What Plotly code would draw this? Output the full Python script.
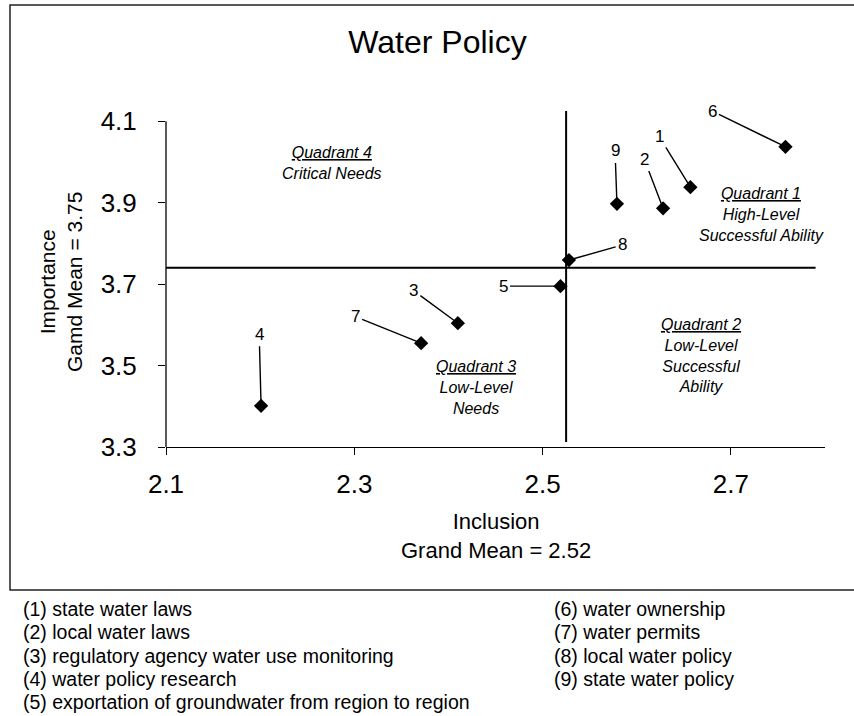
import plotly.graph_objects as go

# ---------------- data ----------------
item_ids = ["1", "2", "3", "4", "5", "6", "7", "8", "9"]
inclusion = [2.657, 2.628, 2.410, 2.201, 2.519, 2.758, 2.371, 2.528, 2.579]
importance = [3.938, 3.886, 3.604, 3.401, 3.695, 4.037, 3.555, 3.759, 3.897]
# label (callout) anchor positions in data units
label_x = [2.624, 2.608, 2.363, 2.199, 2.458, 2.680, 2.301, 2.585, 2.577]
label_y = [4.062, 4.007, 3.684, 3.577, 3.695, 4.125, 3.620, 3.796, 4.027]

grand_mean_inclusion = 2.525
grand_mean_importance = 3.74

x_ticks = [2.1, 2.3, 2.5, 2.7]
y_ticks = [3.3, 3.5, 3.7, 3.9, 4.1]

legend_left = [
    "(1) state water laws",
    "(2) local water laws",
    "(3) regulatory agency water use monitoring",
    "(4) water policy research",
    "(5) exportation of groundwater from region to region",
]
legend_right = [
    "(6) water ownership",
    "(7) water permits",
    "(8) local water policy",
    "(9) state water policy",
]

quadrant_texts = [
    "<u>Quadrant 4</u><br>Critical Needs",
    "<u>Quadrant 1</u><br>High-Level<br>Successful Ability",
    "<u>Quadrant 3</u><br>Low-Level<br>Needs",
    "<u>Quadrant 2</u><br>Low-Level<br>Successful<br>Ability",
]
quadrant_x = [2.276, 2.733, 2.429, 2.668]
quadrant_y = [3.998, 3.872, 3.445, 3.525]

# ---------------- layout constants ----------------
W, H = 854, 716
ML, MR, MT, MB = 166, 29, 111, 269
PW = W - ML - MR
PH = H - MT - MB
FONT = "Liberation Sans, Arial, Helvetica, sans-serif"


def px_to_paper_x(px):
    return (px - ML) / PW


def px_to_paper_y(py):
    return (H - MB - py) / PH


fig = go.Figure()

fig.add_trace(go.Scatter(
    x=inclusion, y=importance, mode="markers",
    marker=dict(symbol="diamond", size=11, color="black"),
    hoverinfo="skip", showlegend=False,
))

annotations = []
# callout labels with leader lines
for i, lab in enumerate(item_ids):
    annotations.append(dict(
        x=inclusion[i], y=importance[i], xref="x", yref="y",
        ax=label_x[i], ay=label_y[i], axref="x", ayref="y",
        text=lab, showarrow=True, arrowhead=0, arrowwidth=1.4,
        arrowcolor="black", standoff=2, startstandoff=1,
        font=dict(family=FONT, size=17, color="black"),
    ))

# quadrant descriptions
for t, qx, qy in zip(quadrant_texts, quadrant_x, quadrant_y):
    annotations.append(dict(
        x=qx, y=qy, xref="x", yref="y", text="<i>" + t + "</i>",
        showarrow=False, align="center", xanchor="center", yanchor="middle",
        font=dict(family=FONT, size=16, color="black"),
    ))

# axis titles
annotations.append(dict(
    x=0.5, y=px_to_paper_y(536), xref="paper", yref="paper",
    text="Inclusion<br>Grand Mean = 2.52", showarrow=False,
    xanchor="center", yanchor="middle", align="center",
    font=dict(family=FONT, size=22, color="black"),
))
annotations.append(dict(
    x=px_to_paper_x(61), y=px_to_paper_y(282), xref="paper", yref="paper",
    text="Importance<br>Gamd Mean = 3.75", showarrow=False, textangle=-90,
    xanchor="center", yanchor="middle", align="center",
    font=dict(family=FONT, size=21, color="black"),
))

# item legend below chart
ROW0, ROWSTEP = 609, 23.3
for i, t in enumerate(legend_left):
    annotations.append(dict(
        x=px_to_paper_x(21), y=px_to_paper_y(ROW0 + ROWSTEP * i),
        xref="paper", yref="paper", text=t, showarrow=False,
        xanchor="left", yanchor="middle",
        font=dict(family=FONT, size=19.5, color="black"),
    ))
for i, t in enumerate(legend_right):
    annotations.append(dict(
        x=px_to_paper_x(552), y=px_to_paper_y(ROW0 + ROWSTEP * i),
        xref="paper", yref="paper", text=t, showarrow=False,
        xanchor="left", yanchor="middle",
        font=dict(family=FONT, size=19.5, color="black"),
    ))

shapes = [
    # grand-mean cross lines
    dict(type="line", xref="x", yref="y", x0=grand_mean_inclusion, x1=grand_mean_inclusion,
         y0=3.312, y1=4.125, line=dict(color="black", width=2)),
    dict(type="line", xref="x", yref="y", x0=2.1, x1=2.79,
         y0=grand_mean_importance, y1=grand_mean_importance, line=dict(color="black", width=2)),
    # y-axis spine (3.3 to 4.1)
    dict(type="line", xref="paper", yref="y", x0=0, x1=0, y0=3.3, y1=4.1,
         line=dict(color="black", width=1.3)),
    # outer frame
    dict(type="rect", xref="paper", yref="paper",
         x0=px_to_paper_x(10), x1=px_to_paper_x(880),
         y0=px_to_paper_y(590), y1=px_to_paper_y(5),
         line=dict(color="#222", width=1.5), fillcolor="rgba(0,0,0,0)"),
]

fig.update_layout(
    width=W, height=H,
    margin=dict(l=ML, r=MR, t=MT, b=MB, autoexpand=False),
    paper_bgcolor="white", plot_bgcolor="white",
    font=dict(family=FONT, color="black"),
    title=dict(text="Water Policy", x=437.5 / W, xref="container", xanchor="center",
               y=1 - 42 / H, yref="container", yanchor="middle",
               font=dict(family=FONT, size=32, color="black")),
    xaxis=dict(range=[2.1, 2.8], tickvals=x_ticks, ticktext=[f"{v:.1f}" for v in x_ticks],
               showline=True, linecolor="black", linewidth=1.3, ticks="outside",
               ticklen=7, tickcolor="black", tickwidth=1, showgrid=False, zeroline=False,
               tickfont=dict(family=FONT, size=26, color="black"), ticklabelstandoff=7),
    yaxis=dict(range=[3.3, 4.125], tickvals=y_ticks, ticktext=[f"{v:.1f}" for v in y_ticks],
               showline=False, ticks="outside", ticklen=7, tickcolor="black", tickwidth=1,
               showgrid=False, zeroline=False,
               tickfont=dict(family=FONT, size=26, color="black"), ticklabelstandoff=16),
    annotations=annotations,
    shapes=shapes,
    hovermode=False,
)

fig.write_html(
    "out.html",
    config={"displayModeBar": False},
    post_script="document.body.style.margin='0px';document.body.style.overflow='hidden';",
)
